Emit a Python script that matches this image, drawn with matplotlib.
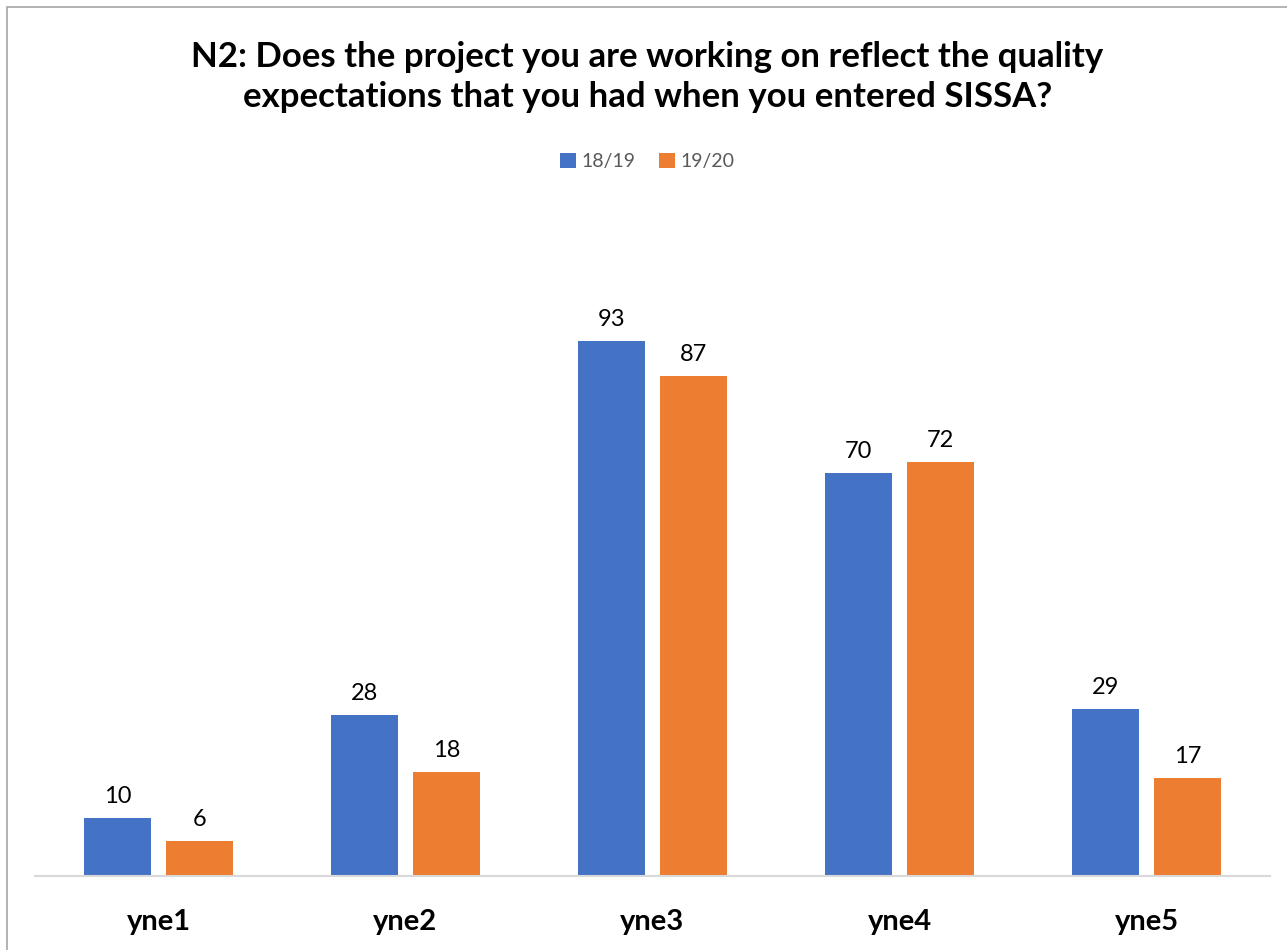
import numpy as np
import matplotlib.pyplot as plt
from matplotlib.patches import Rectangle

categories = ["yne1", "yne2", "yne3", "yne4", "yne5"]
series_names = ["18/19", "19/20"]
vals_1819 = [10, 28, 93, 70, 29]
vals_1920 = [6, 18, 87, 72, 17]

blue = "#4472C4"
orange = "#ED7D31"
plt.rcParams['font.family'] = ['Lato', 'DejaVu Sans']

fig = plt.figure(figsize=(12.87, 9.5), dpi=100)
ax = fig.add_axes([0.0272, 0.0779, 0.9596, 0.6053])

x = np.arange(len(categories))
w = 0.27
gap = 0.06
b1 = ax.bar(x - (w + gap) / 2, vals_1819, w, color=blue, label=series_names[0])
b2 = ax.bar(x + (w + gap) / 2, vals_1920, w, color=orange, label=series_names[1])

for bars in (b1, b2):
    for r in bars:
        ax.annotate(f"{int(r.get_height())}", (r.get_x() + r.get_width() / 2, r.get_height()),
                    xytext=(0, 8), textcoords="offset points", ha="center", va="bottom",
                    fontsize=17, color="#000000")

ax.set_xlim(-0.5, len(categories) - 0.5)
ax.set_ylim(0, 100)
ax.set_yticks([])
ax.set_xticks(x)
ax.set_xticklabels(categories, fontsize=21, fontweight="bold")
ax.tick_params(axis="x", length=0, pad=24)
for s in ["top", "right", "left"]:
    ax.spines[s].set_visible(False)
ax.spines["bottom"].set_color("#D9D9D9")
ax.spines["bottom"].set_linewidth(1.5)
ax.spines["bottom"].set_bounds(-0.5, len(categories) - 0.5)

fig.text(0.503, 0.919, "N2: Does the project you are working on reflect the quality\nexpectations that you had when you entered SISSA?",
         ha="center", va="center", fontsize=25, fontweight="bold", linespacing=1.3)

leg = fig.legend(loc="center", bbox_to_anchor=(0.503, 0.830), ncol=2, frameon=False,
                 fontsize=14, handlelength=0.8, handleheight=0.8, handletextpad=0.3,
                 columnspacing=1.2)
for t in leg.get_texts():
    t.set_color("#595959")

fig.patches.append(Rectangle((7 / 1287, -0.1), 1.2, (950 - 7) / 950 + 0.1,
                             transform=fig.transFigure, fill=False,
                             edgecolor="#A6A6A6", linewidth=1.2))

fig.savefig("out.png", dpi=100)
